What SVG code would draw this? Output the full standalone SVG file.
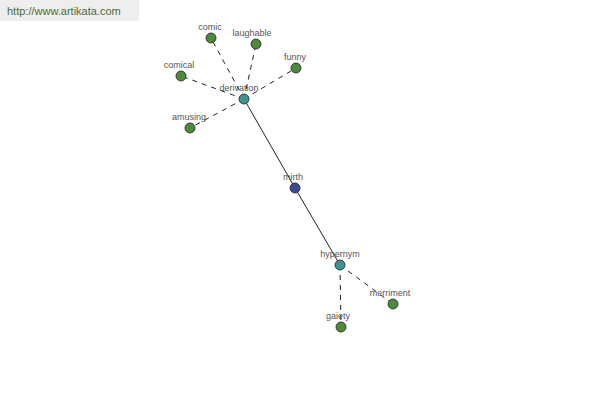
<svg xmlns="http://www.w3.org/2000/svg" width="600" height="400" viewBox="0 0 600 400">
<style>
.lbl{font-family:"Liberation Sans",Arial,sans-serif;font-size:9px;fill:#555;text-anchor:middle}
.n{stroke:#222;stroke-width:0.8}
.g{fill:#4c8a3c}
.t{fill:#3f9393}
.b{fill:#3c4a94}
.d{stroke:#222;stroke-width:1;stroke-dasharray:5,5;fill:none}
.s{stroke:#222;stroke-width:1;fill:none}
</style>
<rect x="0" y="0" width="600" height="400" fill="#fff"/>
<rect x="0" y="0" width="139" height="21" fill="#eeeeee"/>
<text x="7" y="15" font-family="'Liberation Sans',Arial,sans-serif" font-size="11" fill="#4a6a3a">http://www.artikata.com</text>
<g id="connectors">
<line class="s" x1="244" y1="99" x2="295" y2="188"/>
<line class="s" x1="295" y1="188" x2="340" y2="265"/>
<line class="d" x1="244" y1="99" x2="211" y2="38"/>
<line class="d" x1="244" y1="99" x2="256" y2="44"/>
<line class="d" x1="244" y1="99" x2="296" y2="68"/>
<line class="d" x1="244" y1="99" x2="181" y2="76"/>
<line class="d" x1="244" y1="99" x2="190" y2="128"/>
<line class="d" x1="340" y1="265" x2="393" y2="304"/>
<line class="d" x1="340" y1="265" x2="341" y2="327"/>
</g>
<g id="comic"><circle class="n g" cx="211" cy="38" r="5"/><text class="lbl" x="210" y="30">comic</text></g>
<g id="laughable"><circle class="n g" cx="256" cy="44" r="5"/><text class="lbl" x="252" y="36">laughable</text></g>
<g id="funny"><circle class="n g" cx="296" cy="68" r="5"/><text class="lbl" x="295" y="60">funny</text></g>
<g id="comical"><circle class="n g" cx="181" cy="76" r="5"/><text class="lbl" x="179" y="68">comical</text></g>
<g id="amusing"><circle class="n g" cx="190" cy="128" r="5"/><text class="lbl" x="189" y="120">amusing</text></g>
<g id="derivation"><circle class="n t" cx="244" cy="99" r="5"/><text class="lbl" x="239" y="91">derivation</text></g>
<g id="mirth"><circle class="n b" cx="295" cy="188" r="5"/><text class="lbl" x="293" y="180">mirth</text></g>
<g id="hypernym"><circle class="n t" cx="340" cy="265" r="5"/><text class="lbl" x="340" y="257">hypernym</text></g>
<g id="merriment"><circle class="n g" cx="393" cy="304" r="5"/><text class="lbl" x="390" y="296">merriment</text></g>
<g id="gaiety"><circle class="n g" cx="341" cy="327" r="5"/><text class="lbl" x="338" y="319">gaiety</text></g>
</svg>
